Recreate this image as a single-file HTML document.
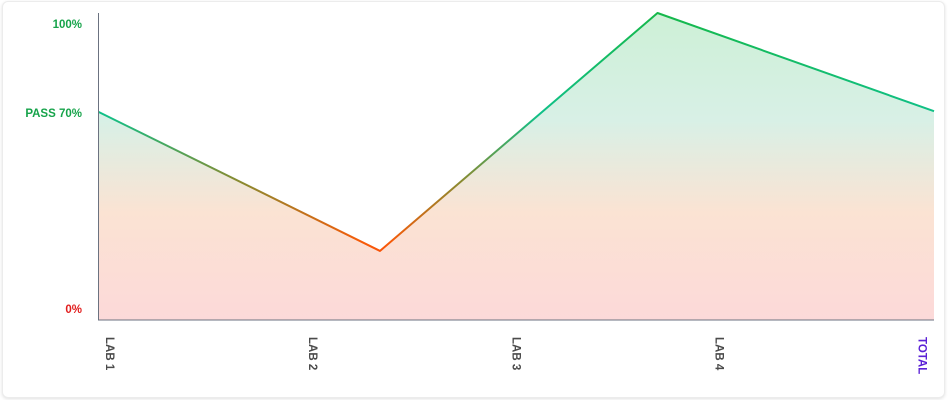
<!DOCTYPE html>
<html><head><meta charset="utf-8"><style>
html,body{margin:0;padding:0;background:#fff;}
body{width:948px;height:400px;overflow:hidden;font-family:"Liberation Sans",sans-serif;}
.card{position:absolute;left:2px;top:1px;width:941px;height:395px;border:1px solid #ececec;border-radius:6px;box-shadow:0 1px 3px rgba(0,0,0,0.12);background:#fff;}
svg{position:absolute;left:0;top:0;}
</style></head><body>
<div class="card"></div>
<svg id="chart" width="948" height="400">
<defs>
<linearGradient id="fillg" x1="0" y1="13" x2="0" y2="320" gradientUnits="userSpaceOnUse">
<stop offset="0" stop-color="#cdf0d6"/>
<stop offset="0.35" stop-color="#d8f0e6"/>
<stop offset="0.65" stop-color="#fbe3d3"/>
<stop offset="1" stop-color="#fcd9d9"/>
</linearGradient>
<linearGradient id="lineg" x1="0" y1="13" x2="0" y2="320" gradientUnits="userSpaceOnUse">
<stop offset="0" stop-color="#16b84a"/>
<stop offset="0.33" stop-color="#10c088"/>
<stop offset="0.55" stop-color="#8a8a30"/>
<stop offset="0.75" stop-color="#f85a08"/>
<stop offset="1" stop-color="#f02020"/>
</linearGradient>
</defs>
</svg>
<script>
const categories=["LAB 1","LAB 2","LAB 3","LAB 4","TOTAL"];
const values=[67.8,22.5,100,68];
const yTicks=[0,70,100];
const yTickLabels=["0%","PASS 70%","100%"];
const L=98.5,R=934,T=13,B=320;
const svg=document.getElementById('chart');
const NS='http://www.w3.org/2000/svg';
const y=v=>B-(v/100)*(B-T);
const xp=i=>L+i*(R-L)/(values.length-1)+(i==1?3:i==2?2:0);
function mk(t,a){const e=document.createElementNS(NS,t);for(const k in a)e.setAttribute(k,a[k]);svg.appendChild(e);return e;}
let pts=values.map((v,i)=>xp(i)+','+y(v)).join(' ');
const area=mk('polygon',{points:L+','+B+' '+pts+' '+R+','+B,fill:'url(#fillg)'});


const line=mk('polyline',{points:pts,fill:'none',stroke:'url(#lineg)','stroke-width':2,'stroke-linejoin':'round'});


const ax=mk('path',{d:`M${L} ${T}V${B}H${R}`,fill:'none',stroke:'#6b7280','stroke-width':1});


const tickColors=["#e11d1d","#16a34a","#16a34a"];
const tickOff=[-7,12,15];
yTicks.forEach((v,i)=>{const t=mk('text',{x:82,y:y(v)+tickOff[i],'text-anchor':'end','font-size':11.5,'font-weight':'bold',fill:tickColors[i]});t.textContent=yTickLabels[i];

});
categories.forEach((c,i)=>{const px=L+11.5+i*(R-L-23)/(categories.length-1);const t=mk('text',{x:0,y:0,transform:`translate(${px-4},337) rotate(90)`,'font-size':11.5,'font-weight':'bold',fill:i==categories.length-1?'#5b21d6':'#4b4b4b'});t.textContent=c;

});
</script>
</body></html>
